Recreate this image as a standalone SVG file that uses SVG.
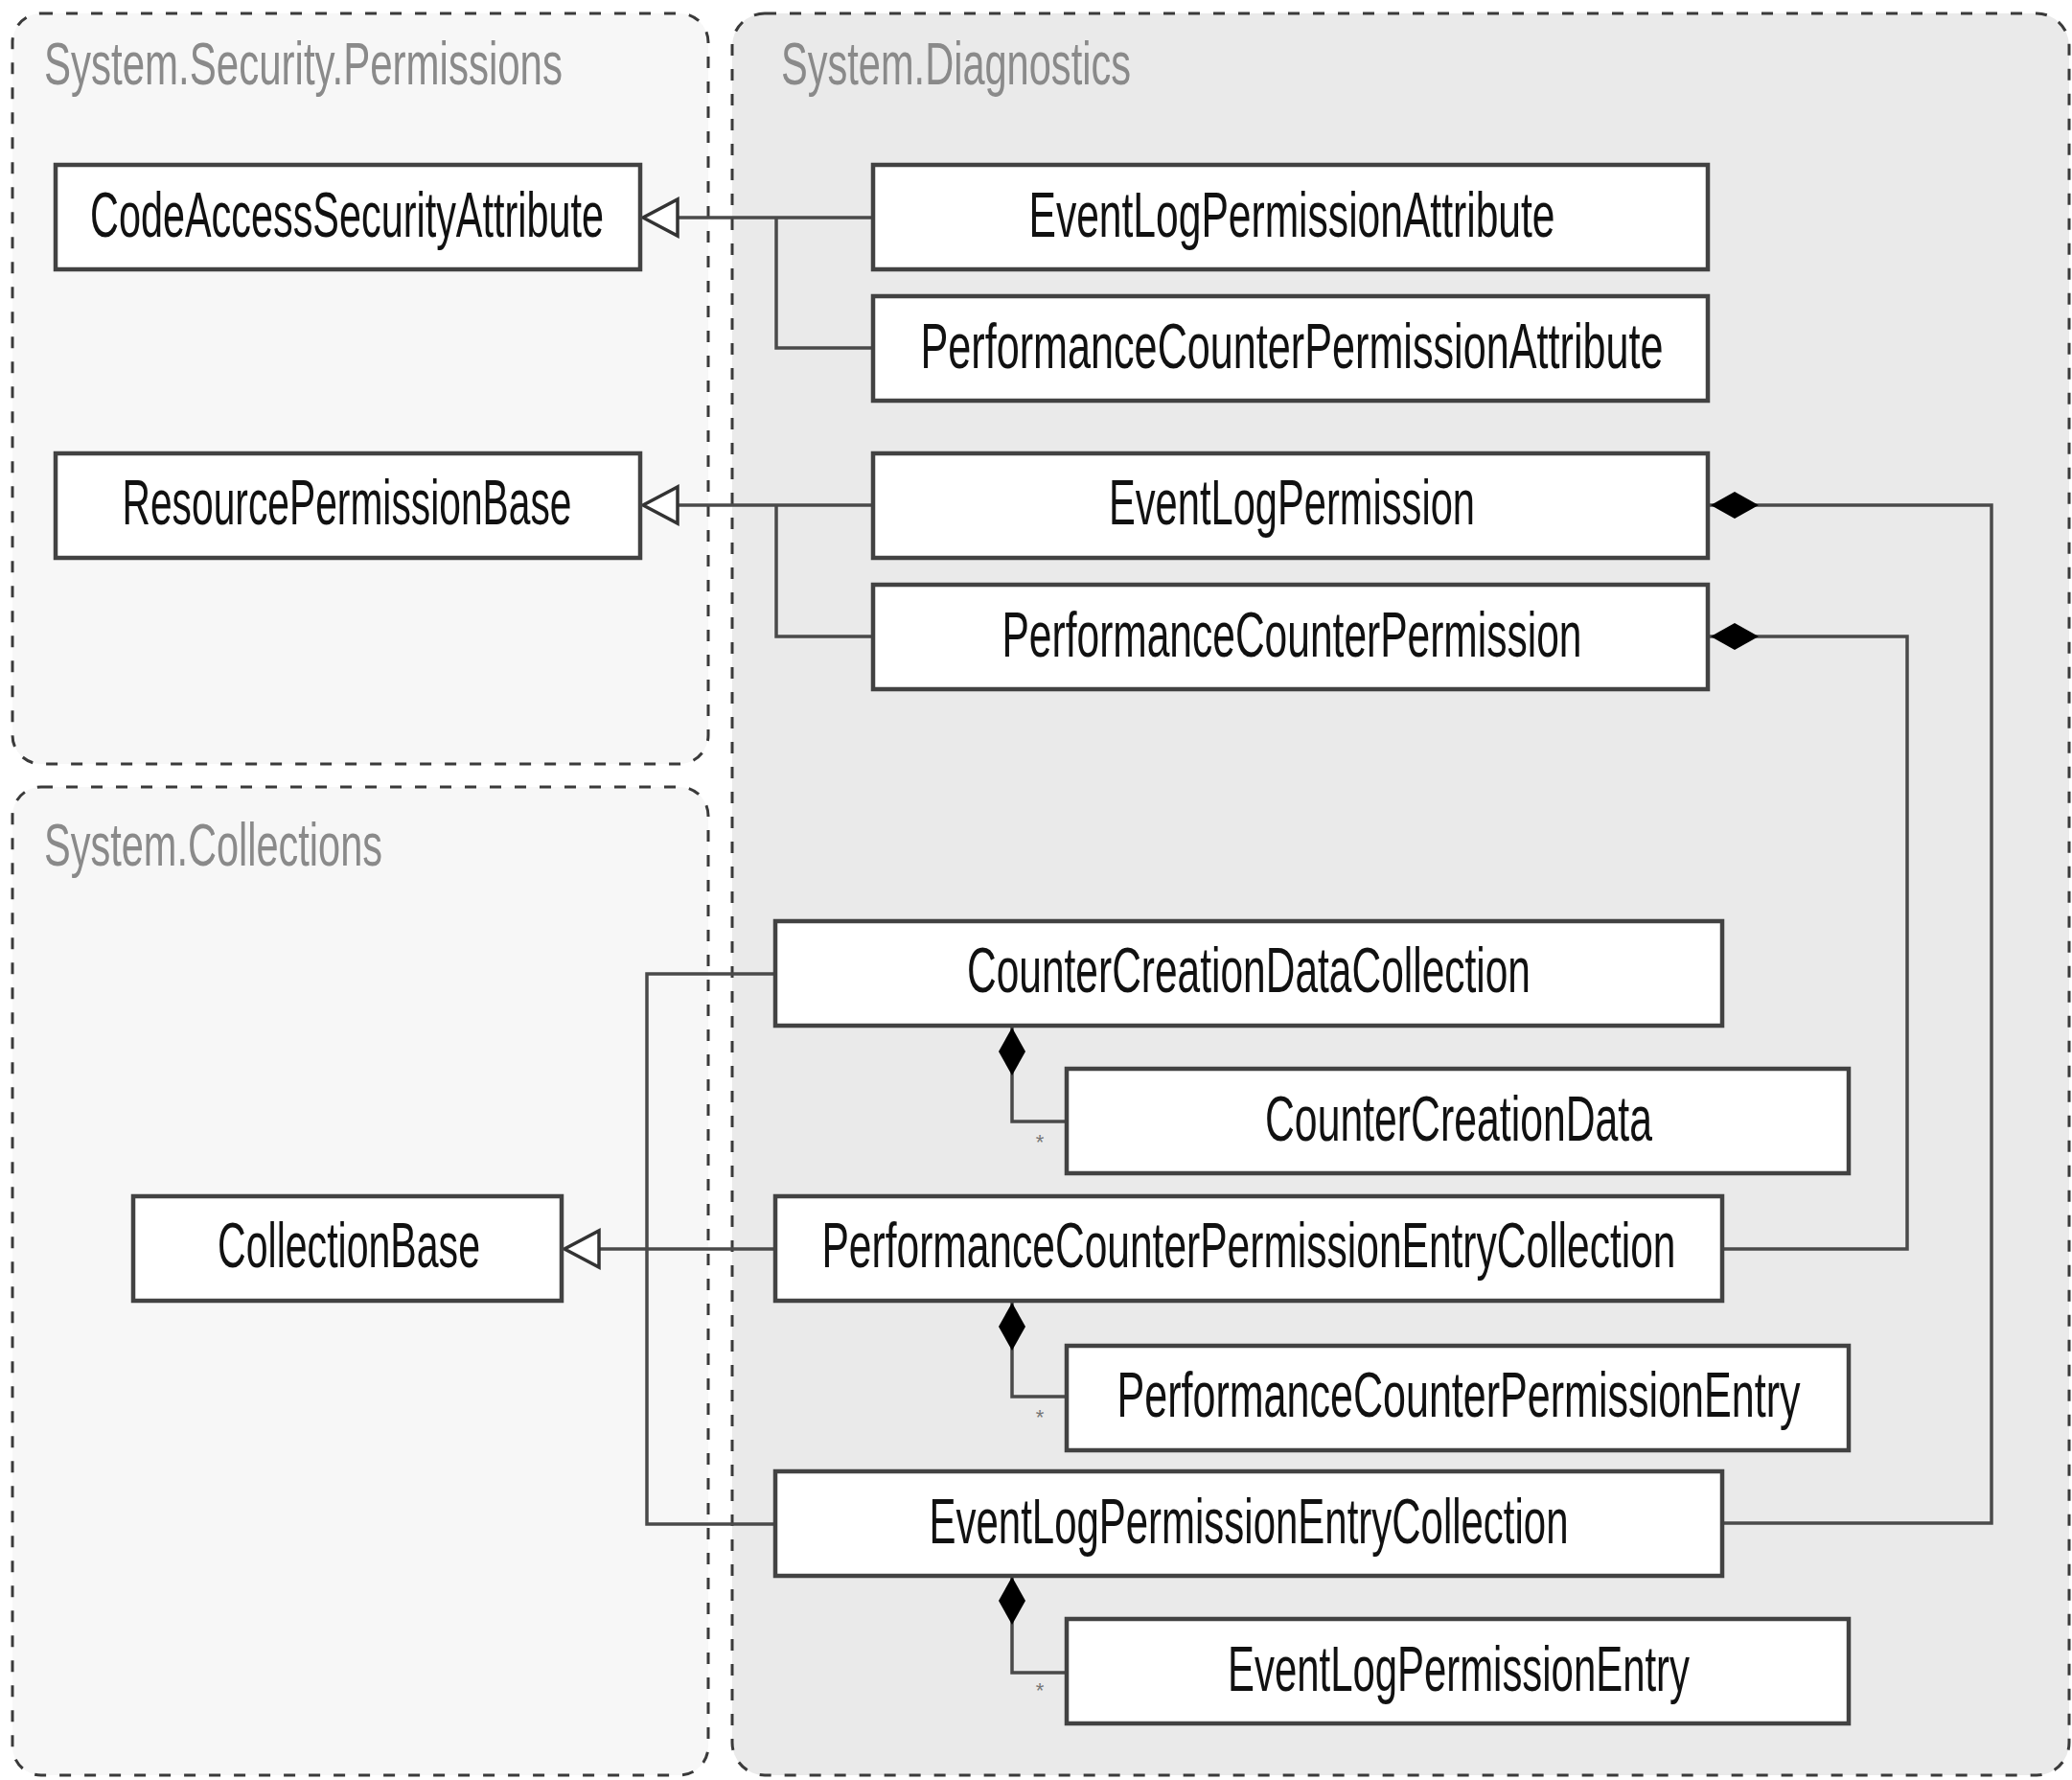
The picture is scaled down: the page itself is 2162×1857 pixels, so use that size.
<svg xmlns="http://www.w3.org/2000/svg" width="2162" height="1857" viewBox="0 0 2162 1857">
<defs>
<style>
.pkg{stroke:#3a3a3a;stroke-width:3;stroke-dasharray:12 14}
.pkgA{fill:#f7f7f7}
.pkgB{fill:#eaeaea}
.title{font-family:"Liberation Sans Narrow","Liberation Sans",Arial,sans-serif;font-size:63px;fill:#8a8a8a}
.box{fill:#fff;stroke:#424242;stroke-width:4.5}
.lbl{font-family:"Liberation Sans Narrow","Liberation Sans",Arial,sans-serif;font-size:66px;fill:#111;text-anchor:middle}
.con{fill:none;stroke:#4a4a4a;stroke-width:3.5}
.gen{marker-end:url(#gen)}
.comp{marker-start:url(#comp)}
.mult{font-family:"Liberation Sans",Arial,sans-serif;font-size:22px;fill:#777;text-anchor:middle}
</style>
<marker id="gen" markerUnits="userSpaceOnUse" markerWidth="80" markerHeight="80" refX="0" refY="0" orient="auto" overflow="visible">
<path d="M0,0 L-36,-19 L-36,19 Z" fill="#fff" stroke="#333" stroke-width="3.5" stroke-linejoin="miter"/>
</marker>
<marker id="comp" markerUnits="userSpaceOnUse" markerWidth="80" markerHeight="80" refX="0" refY="0" orient="auto" overflow="visible">
<path d="M2,0 L27,-14 L52,0 L27,14 Z" fill="#000"/>
</marker>
</defs>
<rect x="0" y="0" width="2162" height="1857" fill="#fff"/>

<g id="pkg-security">
<rect class="pkg pkgA" x="13" y="14" width="726" height="783" rx="30" ry="30"/>
<text class="title" x="46" y="88" textLength="541" lengthAdjust="spacingAndGlyphs">System.Security.Permissions</text>
</g>
<g id="pkg-collections">
<rect class="pkg pkgA" x="13" y="821" width="726" height="1031" rx="30" ry="30"/>
<text class="title" x="46" y="903" textLength="353" lengthAdjust="spacingAndGlyphs">System.Collections</text>
</g>
<g id="pkg-diagnostics">
<rect class="pkg pkgB" x="764" y="14" width="1395" height="1838" rx="34" ry="34"/>
<text class="title" x="815" y="88" textLength="365" lengthAdjust="spacingAndGlyphs">System.Diagnostics</text>
</g>

<g id="connectors">
<path class="con gen" d="M911,227 H671"/>
<path class="con" d="M911,363 H810 V227"/>
<path class="con gen" d="M911,527 H671"/>
<path class="con" d="M911,664 H810 V527"/>
<path class="con gen" d="M809,1303 H589"/>
<path class="con" d="M809,1016 H675 V1590 H809"/>
<path class="con comp" d="M1783,527 H2078 V1589 H1797"/>
<path class="con comp" d="M1783,664 H1990 V1303 H1797"/>
<path class="con comp" d="M1056,1070 V1170 H1113"/>
<path class="con comp" d="M1056,1357 V1457 H1113"/>
<path class="con comp" d="M1056,1643 V1745 H1113"/>
<text class="mult" x="1085" y="1199">*</text>
<text class="mult" x="1085" y="1486">*</text>
<text class="mult" x="1085" y="1771">*</text>
</g>

<g id="CodeAccessSecurityAttribute">
<rect class="box" x="58" y="172" width="610" height="109"/>
<text class="lbl" x="362" y="247" textLength="536" lengthAdjust="spacingAndGlyphs">CodeAccessSecurityAttribute</text>
</g>
<g id="ResourcePermissionBase">
<rect class="box" x="58" y="473" width="610" height="109"/>
<text class="lbl" x="362" y="547" textLength="469" lengthAdjust="spacingAndGlyphs">ResourcePermissionBase</text>
</g>
<g id="CollectionBase">
<rect class="box" x="139" y="1248" width="447" height="109"/>
<text class="lbl" x="364" y="1322" textLength="274" lengthAdjust="spacingAndGlyphs">CollectionBase</text>
</g>
<g id="EventLogPermissionAttribute">
<rect class="box" x="911" y="172" width="871" height="109"/>
<text class="lbl" x="1348" y="247" textLength="549" lengthAdjust="spacingAndGlyphs">EventLogPermissionAttribute</text>
</g>
<g id="PerformanceCounterPermissionAttribute">
<rect class="box" x="911" y="309" width="871" height="109"/>
<text class="lbl" x="1348" y="384" textLength="775" lengthAdjust="spacingAndGlyphs">PerformanceCounterPermissionAttribute</text>
</g>
<g id="EventLogPermission">
<rect class="box" x="911" y="473" width="871" height="109"/>
<text class="lbl" x="1348" y="547" textLength="382" lengthAdjust="spacingAndGlyphs">EventLogPermission</text>
</g>
<g id="PerformanceCounterPermission">
<rect class="box" x="911" y="610" width="871" height="109"/>
<text class="lbl" x="1348" y="685" textLength="605" lengthAdjust="spacingAndGlyphs">PerformanceCounterPermission</text>
</g>
<g id="CounterCreationDataCollection">
<rect class="box" x="809" y="961" width="988" height="109"/>
<text class="lbl" x="1303" y="1035" textLength="588" lengthAdjust="spacingAndGlyphs">CounterCreationDataCollection</text>
</g>
<g id="CounterCreationData">
<rect class="box" x="1113" y="1115" width="816" height="109"/>
<text class="lbl" x="1522" y="1190" textLength="404" lengthAdjust="spacingAndGlyphs">CounterCreationData</text>
</g>
<g id="PerformanceCounterPermissionEntryCollection">
<rect class="box" x="809" y="1248" width="988" height="109"/>
<text class="lbl" x="1303" y="1322" textLength="891" lengthAdjust="spacingAndGlyphs">PerformanceCounterPermissionEntryCollection</text>
</g>
<g id="PerformanceCounterPermissionEntry">
<rect class="box" x="1113" y="1404" width="816" height="109"/>
<text class="lbl" x="1522" y="1478" textLength="713" lengthAdjust="spacingAndGlyphs">PerformanceCounterPermissionEntry</text>
</g>
<g id="EventLogPermissionEntryCollection">
<rect class="box" x="809" y="1535" width="988" height="109"/>
<text class="lbl" x="1303" y="1610" textLength="667" lengthAdjust="spacingAndGlyphs">EventLogPermissionEntryCollection</text>
</g>
<g id="EventLogPermissionEntry">
<rect class="box" x="1113" y="1689" width="816" height="109"/>
<text class="lbl" x="1522" y="1764" textLength="482" lengthAdjust="spacingAndGlyphs">EventLogPermissionEntry</text>
</g>
</svg>
